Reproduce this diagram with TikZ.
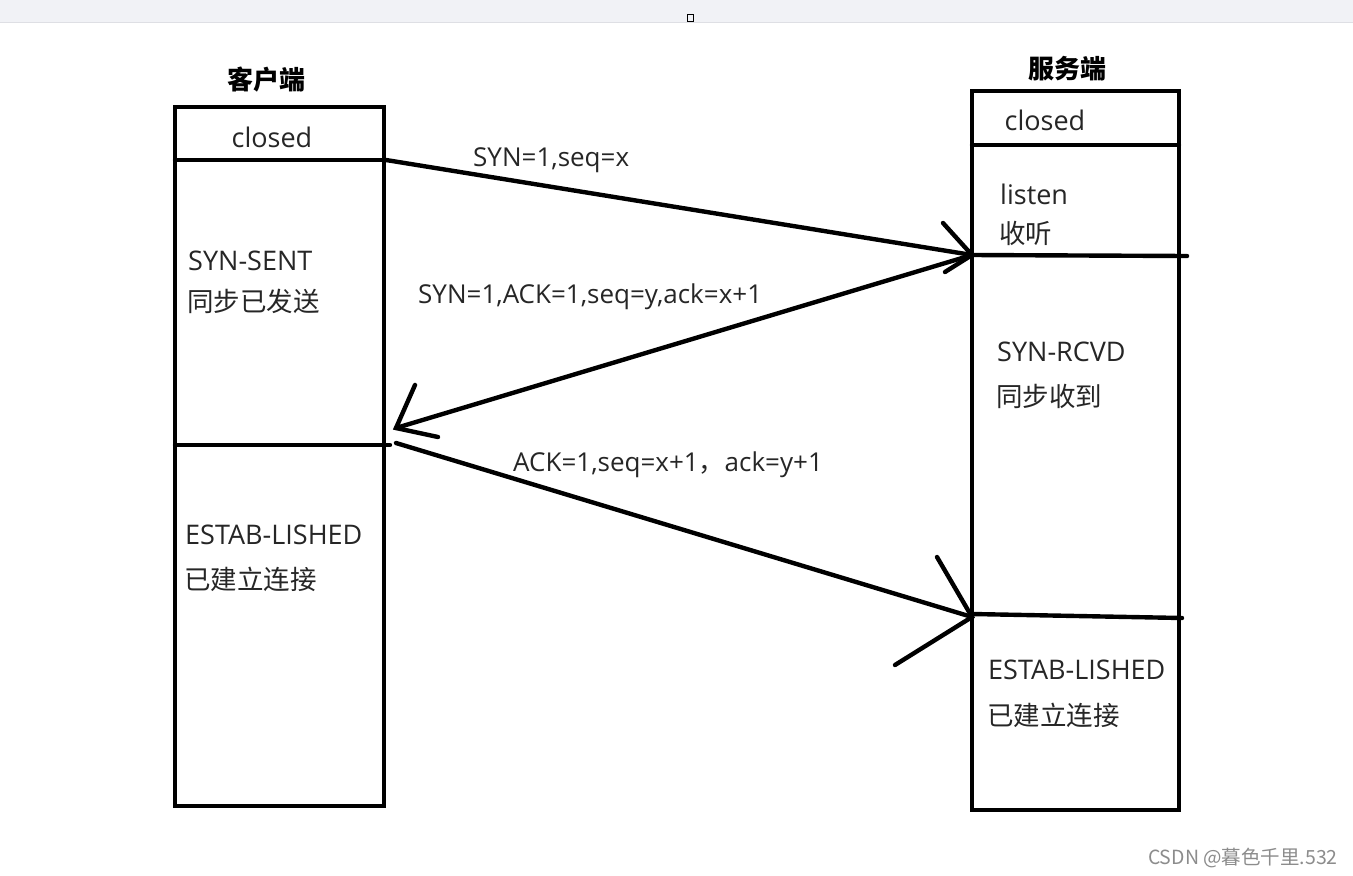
\documentclass[tikz,border=0pt]{standalone}
\usepackage{fontspec}
\setmainfont{Open Sans}
\newfontfamily\cjk{Noto Sans CJK SC}
\definecolor{barbg}{RGB}{241,242,246}
\definecolor{barline}{RGB}{222,223,228}
\begin{document}
\begin{tikzpicture}[x=1pt,y=-1pt,
  thick line/.style={line width=4.4pt,line cap=round},
  box/.style={draw,line width=4.4pt},
  lbl/.style={anchor=west,inner sep=0pt,font=\fontsize{27}{32}\selectfont,text=black!85},
  zlbl/.style={anchor=west,inner sep=0pt,font=\cjk\fontsize{26.5}{32}\selectfont,text=black!85},
  msg/.style={anchor=west,inner sep=0pt,font=\fontsize{26}{31}\selectfont,text=black!85},
  head/.style={anchor=center,inner sep=0pt,font=\cjk\fontsize{26}{31}\selectfont\bfseries}]
\useasboundingbox (0,0) rectangle (1353,876);
\fill[white] (0,0) rectangle (1353,876);
% top bar
\fill[barbg] (0,0) rectangle (1353,22);
\draw[line width=1pt,barline] (0,22) -- (1353,22);
\draw[line width=1pt] (687,14) rectangle (693,21);
% headings
\node[head] (hc) at (266,80) {客户端};
\node[head] (hs) at (1067,69) {服务端};
% left box
\draw[box] (175,107) rectangle (384,806);
\draw[thick line] (175,160) -- (384,160);
\draw[thick line] (175,445) -- (390,445);
% right box
\draw[box] (972,91) rectangle (1179,810);
\draw[thick line] (972,145) -- (1179,145);
\draw[thick line] (972,255) -- (1187,256);
\draw[thick line] (972,614) -- (1182,618);
% coordinates
\coordinate (c1) at (386,160);
\coordinate (s1) at (972,255);
\coordinate (c2) at (396,428);
\coordinate (c3) at (396,443);
\coordinate (s3) at (972,617);
% arrows
\draw[thick line] (c1) -- (s1);
\draw[thick line] (943,223) -- (s1) -- (945,272);
\draw[thick line] (s1) -- (c2);
\draw[thick line] (415,385) -- (c2) -- (438,437);
\draw[thick line] (c3) -- (s3);
\draw[thick line] (937,557) -- (s3) -- (895,665);
% box labels
\node[lbl,anchor=center] (lc) at (272,137) {closed};
\node[lbl,anchor=center] (rc) at (1045,120) {closed};
\node[lbl] (l1) at (188,261) {SYN-SENT};
\node[zlbl] (l2) at (187,301) {同步已发送};
\node[lbl] (l3) at (185,535) {ESTAB-LISHED};
\node[zlbl] (l4) at (184,579) {已建立连接};
\node[lbl] (r1) at (1000,194) {listen};
\node[zlbl] (r2) at (999,233) {收听};
\node[lbl] (r3) at (997,352) {SYN-RCVD};
\node[zlbl] (r4) at (996,396) {同步收到};
\node[lbl] (r5) at (988,670) {ESTAB-LISHED};
\node[zlbl] (r6) at (987,715) {已建立连接};
% messages
\node[msg] (m1) at (473,160) {SYN=1,seq=x};
\node[msg] (m2) at (418,297) {SYN=1,ACK=1,seq=y,ack=x+1};
\node[msg] (m3) at (513,465) {ACK=1,seq=x+1{\cjk ，}ack=y+1};
% watermark
\node[anchor=east,inner sep=0pt,font=\cjk\fontsize{19.5}{23}\selectfont,text=black!45] (wm) at (1338,858) {CSDN @暮色千里.532};
\end{tikzpicture}
\end{document}
